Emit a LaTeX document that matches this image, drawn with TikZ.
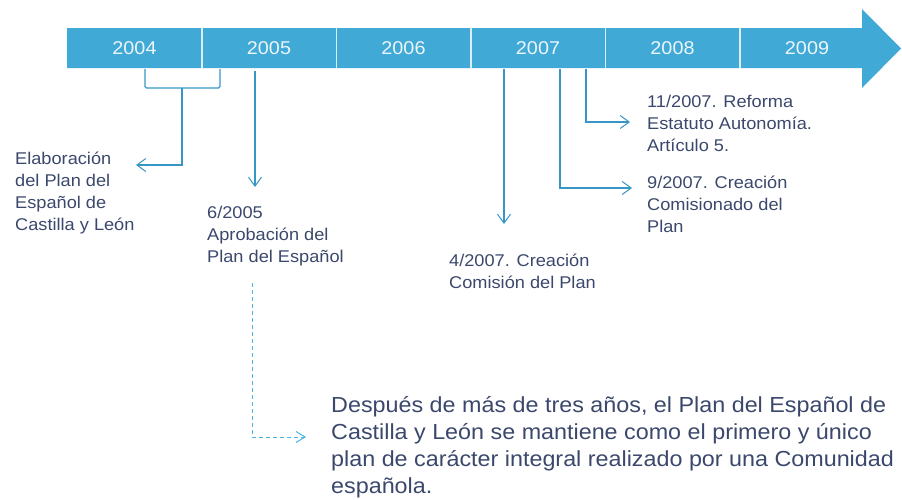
\documentclass[tikz,border=0pt]{standalone}
\usepackage{fontspec}
\setmainfont{Liberation Sans}[FakeStretch=1.07]
\usepackage{xcolor}
\usepackage{tikz}
\usetikzlibrary{arrows.meta,calc,positioning}

\definecolor{barblue}{RGB}{64,169,214}
\definecolor{linkblue}{RGB}{56,150,199}
\definecolor{dashblue}{RGB}{72,178,228}
\definecolor{textblue}{RGB}{59,72,108}

\tikzset{
    yearcell/.style={minimum width=134.5pt, minimum height=40pt, inner sep=0pt,
        text=white!90!barblue, font=\fontsize{18.5}{18.5}\selectfont},
    event/.style={anchor=base west, align=left, inner sep=0pt, text=textblue,
        font=\fontsize{17}{22}\selectfont},
    link/.style={draw=linkblue, line width=1.2pt,
        -{Straight Barb[length=9pt, width=13pt, line width=1pt]}},
    bracket/.style={draw=linkblue, line width=1.2pt, rounded corners=1.5pt},
    hint/.style={draw=dashblue, line width=1pt, dash pattern=on 4pt off 3pt,
        -{Straight Barb[length=9pt, width=11pt, line width=1pt]}}
}

\begin{document}
\begin{tikzpicture}[x=1pt, y=-1pt]
    \useasboundingbox (0,0) rectangle (902,499);

    % Arrow body with head
    \fill[barblue] (67,28) -- (862,28) -- (862,9) -- (901,48.5) -- (862,88) -- (862,68) -- (67,68) -- cycle;

    % Year cells
    \foreach \yr [count=\i] in {2004,...,2009} {
        \node[yearcell] (y\yr) at (134.5*\i, 48) {\yr};
    }

    % Cell separators
    \foreach \yr in {2004,...,2008} {
        \draw[white!80!barblue, line width=1.3pt] (y\yr.north east) -- (y\yr.south east);
    }

    % Anchor points under the bar
    \coordinate (b04l) at (145,69);
    \coordinate (b04r) at (220,69);
    \coordinate (b04m) at (182,88);
    \coordinate (elabtip) at (136,165);
    \coordinate (y05top) at (255,71);
    \coordinate (y05tip) at (255,187);
    \coordinate (a07top) at (504,69);
    \coordinate (a07tip) at (504,224);
    \coordinate (s07top) at (560,69);
    \coordinate (s07tip) at (632,188);
    \coordinate (n07top) at (586,69);
    \coordinate (n07tip) at (630,122);
    \coordinate (hinttop) at (252,283);
    \coordinate (hinttip) at (306,437);

    % Events (placed by the baseline of their last line)
    \node[event] (elab) at (15,230) {Elaboración\\del Plan del\\Español de\\Castilla y León};
    \node[event] (aprob) at (207,262) {6/2005\\Aprobación del\\Plan del Español};
    \node[event] (comision) at (449,288) {4/2007. Creación\\Comisión del Plan};
    \node[event] (comisionado) at (647,232) {9/2007. Creación\\Comisionado del\\Plan};
    \node[event] (reforma) at (647,151) {11/2007. Reforma\\Estatuto Autonomía.\\Artículo 5.};

    % Summary
    \node[event, font=\fontsize{21.8}{26.7}\selectfont] (summary) at (331,493)
        {Después de más de tres años, el Plan del Español de\\
         Castilla y León se mantiene como el primero y único\\
         plan de carácter integral realizado por una Comunidad\\
         española.};

    % Connectors
    \draw[bracket] (b04l) |- (b04m) -| (b04r);
    \draw[link] (b04m) |- (elabtip);
    \draw[link] (y05top) -- (y05tip);
    \draw[link] (a07top) -- (a07tip);
    \draw[link] (s07top) |- (s07tip);
    \draw[link] (n07top) |- (n07tip);
    \draw[hint] (hinttop) |- (hinttip);

\end{tikzpicture}
\end{document}
